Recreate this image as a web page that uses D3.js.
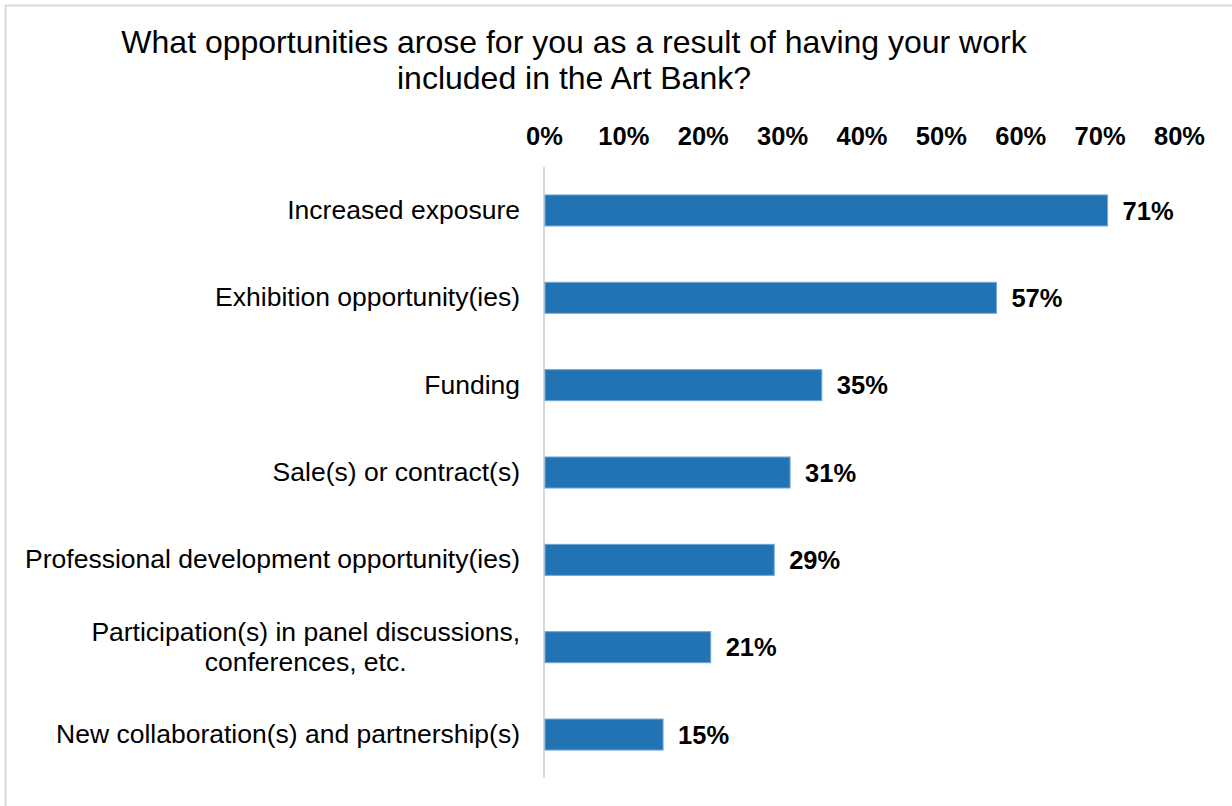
<!DOCTYPE html>
<html>
<head>
<meta charset="utf-8">
<script src="https://cdn.jsdelivr.net/npm/d3@7"></script>
<style>
  html, body { margin: 0; padding: 0; background: #fff; }
  svg { display: block; font-family: "Liberation Sans", Arial, sans-serif; }
</style>
</head>
<body>
<svg id="chart" width="1232" height="806"></svg>
<script>
// Survey responses: share of artists reporting each opportunity
const categories = [
  "Increased exposure",
  "Exhibition opportunity(ies)",
  "Funding",
  "Sale(s) or contract(s)",
  "Professional development opportunity(ies)",
  "Participation(s) in panel discussions,\nconferences, etc.",
  "New collaboration(s) and partnership(s)"
];
const values = [71, 57, 35, 31, 29, 21, 15];
const tickValues = [0, 10, 20, 30, 40, 50, 60, 70, 80];
const titleLines = [
  "What opportunities arose for you as a result of having your work",
  "included in the Art Bank?"
];

const svg = d3.select("#chart");
const W = 1232, H = 806;

// light frame along the top and left edges
svg.append("path")
  .attr("d", `M5.5,${H} L5.5,5.5 L${W},5.5`)
  .attr("fill", "none")
  .attr("stroke", "#d9d9d9")
  .attr("stroke-width", 2);

// title
svg.append("text")
  .attr("x", 574)
  .attr("y", 53)
  .attr("text-anchor", "middle")
  .attr("font-size", 32)
  .attr("fill", "#000")
  .selectAll("tspan")
  .data(titleLines)
  .join("tspan")
  .attr("x", 574)
  .attr("dy", (d, i) => i === 0 ? 0 : 36)
  .text(d => d);

const x = d3.scaleLinear().domain([0, 80]).range([544, 1179]);
const y = d3.scaleBand()
  .domain(categories)
  .range([167, 778])
  .paddingInner(0.645)
  .paddingOuter(0.32);

// value axis on top, labels only
const xAxis = d3.axisTop(x)
  .tickValues(tickValues)
  .tickFormat(d => d + "%")
  .tickSize(0)
  .tickPadding(0);
const gx = svg.append("g")
  .attr("transform", "translate(0,145)")
  .call(xAxis);
gx.select(".domain").remove();
gx.selectAll("text")
  .attr("font-size", 25.5)
  .attr("font-weight", "bold")
  .attr("fill", "#000")
  .attr("font-family", "'Liberation Sans', Arial, sans-serif");

// vertical category axis line
svg.append("line")
  .attr("x1", x(0)).attr("x2", x(0))
  .attr("y1", 167).attr("y2", 778)
  .attr("stroke", "#d9d9d9")
  .attr("stroke-width", 2);

// bars
svg.append("g")
  .selectAll("rect")
  .data(values)
  .join("rect")
  .attr("x", x(0) + 1)
  .attr("y", (d, i) => y(categories[i]))
  .attr("width", d => x(d) - x(0) - 1)
  .attr("height", y.bandwidth())
  .attr("fill", "#2273b4")
  .attr("stroke", "#6fa6d6")
  .attr("stroke-width", 1);

// value labels
svg.append("g")
  .selectAll("text")
  .data(values)
  .join("text")
  .attr("x", d => x(d) + 15)
  .attr("y", (d, i) => y(categories[i]) + y.bandwidth() / 2)
  .attr("dy", "0.36em")
  .attr("font-size", 25.5)
  .attr("font-weight", "bold")
  .attr("fill", "#000")
  .text(d => d + "%");

// category labels: block right-aligned to the axis, wrapped lines centred within the block
const labelRight = 520;
const catG = svg.append("g");
categories.forEach(c => {
  const lines = c.split("\n");
  const cy = y(c) + y.bandwidth() / 2;
  const t = catG.append("text")
    .attr("font-size", 26.5)
    .attr("fill", "#000");
  const spans = lines.map((ln, j) => t.append("tspan")
    .attr("y", cy - 1 + (j - (lines.length - 1) / 2) * 30)
    .attr("dy", "0.36em")
    .text(ln));
  const widths = spans.map(s => s.node().getComputedTextLength());
  const maxW = d3.max(widths);
  if (lines.length === 1) {
    t.attr("text-anchor", "end");
    spans[0].attr("x", labelRight);
  } else {
    t.attr("text-anchor", "middle");
    spans.forEach(s => s.attr("x", labelRight - maxW / 2));
  }
});
</script>
</body>
</html>
